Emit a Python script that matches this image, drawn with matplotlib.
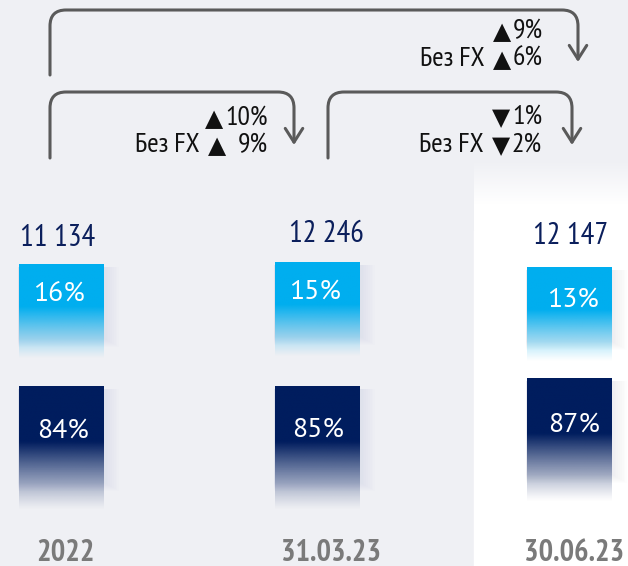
import numpy as np
import matplotlib.pyplot as plt
from matplotlib.path import Path
from matplotlib.patches import FancyArrowPatch, Rectangle
from matplotlib.colors import to_rgb

# Данные
categories = ["2022", "31.03.23", "30.06.23"]
totals = ["11 134", "12 246", "12 147"]
share_fx = [16, 15, 13]
share_rub = [84, 85, 87]
# изменение: (знак, %, знак без FX, % без FX)
changes = [("\u25b2", "10%", "\u25b2", "9%"),
           ("\u25bc", "1%", "\u25bc", "2%"),
           ("\u25b2", "9%", "\u25b2", "6%")]

# Раскладка (пиксели)
col_x = [19, 275, 527]
bar_w = 85
top_light = [264, 262, 267]
top_dark = [386, 386, 378]
light_h = 95
dark_h = 124
total_xy = [(58, 238), (326, 234), (571, 236)]
fx_xy = [(59, 295), (315, 292), (573, 300)]
rub_xy = [(63, 431), (318, 430), (574, 425)]
cat_xy = [(65, 553), (331, 553), (574, 553)]

light_col = "#00AEEF"
dark_col = "#001D5E"
navy_txt = "#0B1F5C"
bg = "#EFF0F4"
font = ["PT Sans Narrow", "DejaVu Sans"]
font_pct = ["PT Sans", "DejaVu Sans"]

fig = plt.figure(figsize=(6.28, 5.66), dpi=100)
ax = fig.add_axes([0, 0, 1, 1])
ax.set_xlim(0, 628)
ax.set_ylim(566, 0)
ax.axis("off")
ax.add_patch(Rectangle((0, 0), 628, 566, color=bg, zorder=0))
renderer = fig.canvas.get_renderer()

# белая панель для последней даты
panel = np.ones((100, 1, 4))
panel[:, 0, 3] = np.clip(np.linspace(0, 1.6, 100), 0, 1)
ax.imshow(panel, extent=(474, 628, 230, 160), aspect="auto", zorder=0.5)
ax.add_patch(Rectangle((474, 230), 154, 336, color="white", zorder=0.5))


def gradient_block(x, y, w, h, color, solid=0.45):
    n = 200
    img = np.zeros((n, 1, 4))
    img[:, 0, :3] = to_rgb(color)
    t = np.linspace(0, 1, n)
    a = np.where(t < solid, 1.0, 1 - (t - solid) / (1 - solid))
    img[:, 0, 3] = np.clip(a, 0, 1) ** 1.2
    # мягкая тень справа
    for k in range(1, 10):
        ax.add_patch(Rectangle((x - 1, y + 3), w + k * 1.8, h * 0.75 + k,
                               color="#8a90a0", alpha=0.01, lw=0, zorder=1))
    ax.imshow(img, extent=(x, x + w, y + h, y), aspect="auto", zorder=2,
              interpolation="bilinear")


for i in range(3):
    x = col_x[i]
    gradient_block(x, top_light[i], bar_w, light_h, light_col, 0.45)
    gradient_block(x, top_dark[i], bar_w, dark_h, dark_col, 0.45)
    ax.text(*fx_xy[i], f"{share_fx[i]}%", color="white", fontsize=20,
            ha="center", va="center", family=font_pct, zorder=3)
    ax.text(*rub_xy[i], f"{share_rub[i]}%", color="white", fontsize=20,
            ha="center", va="center", family=font_pct, zorder=3)
    ax.text(*total_xy[i], totals[i], color=navy_txt, fontsize=22,
            ha="center", va="center", family=font, fontstretch="condensed", zorder=3)
    ax.text(*cat_xy[i], categories[i], color="#7a7a7a", fontsize=22, fontweight="bold",
            ha="center", va="center", family=font, fontstretch="condensed", zorder=3)


def bracket(x0, x1, y_low, y_top, y_end, r=16):
    verts = [(x0, y_low), (x0, y_top + r), (x0, y_top), (x0 + r, y_top),
             (x1 - r, y_top), (x1, y_top), (x1, y_top + r), (x1, y_end)]
    codes = [Path.MOVETO, Path.LINETO, Path.CURVE3, Path.CURVE3,
             Path.LINETO, Path.CURVE3, Path.CURVE3, Path.LINETO]
    arr = FancyArrowPatch(path=Path(verts, codes), arrowstyle="->,head_length=0.55,head_width=0.35",
                          mutation_scale=18, color="#5a5a5a", lw=2.2, zorder=3)
    ax.add_patch(arr)


bracket(50, 578, 75, 10, 62)
bracket(50, 294, 158, 92, 145)
bracket(328, 572, 158, 92, 145)


def change_line(xr, y, tri, val, prefix=None, gap=2):
    t = ax.text(xr, y, val, fontsize=20, ha="right", va="center", family=font,
                fontstretch="condensed", color="#111111")
    w = t.get_window_extent(renderer).width
    x_tri = xr - w - gap
    t2 = ax.text(x_tri, y + 1, tri, fontsize=17, ha="right", va="center",
                 family="DejaVu Sans", color="#111111")
    if prefix:
        w2 = t2.get_window_extent(renderer).width
        ax.text(x_tri - w2 - 8, y, prefix, fontsize=20, ha="right", va="center",
                family=font, fontstretch="condensed", color="#111111")


txt_pos = [(268, 118, 145, 12), (542, 117, 145, 2), (543, 31, 59, 2)]
for (s1, v1, s2, v2), (xr, y1, y2, gap2) in zip(changes, txt_pos):
    change_line(xr, y1, s1, v1)
    change_line(xr, y2, s2, v2, "Без FX", gap=gap2)

fig.savefig("out.png", dpi=100)
